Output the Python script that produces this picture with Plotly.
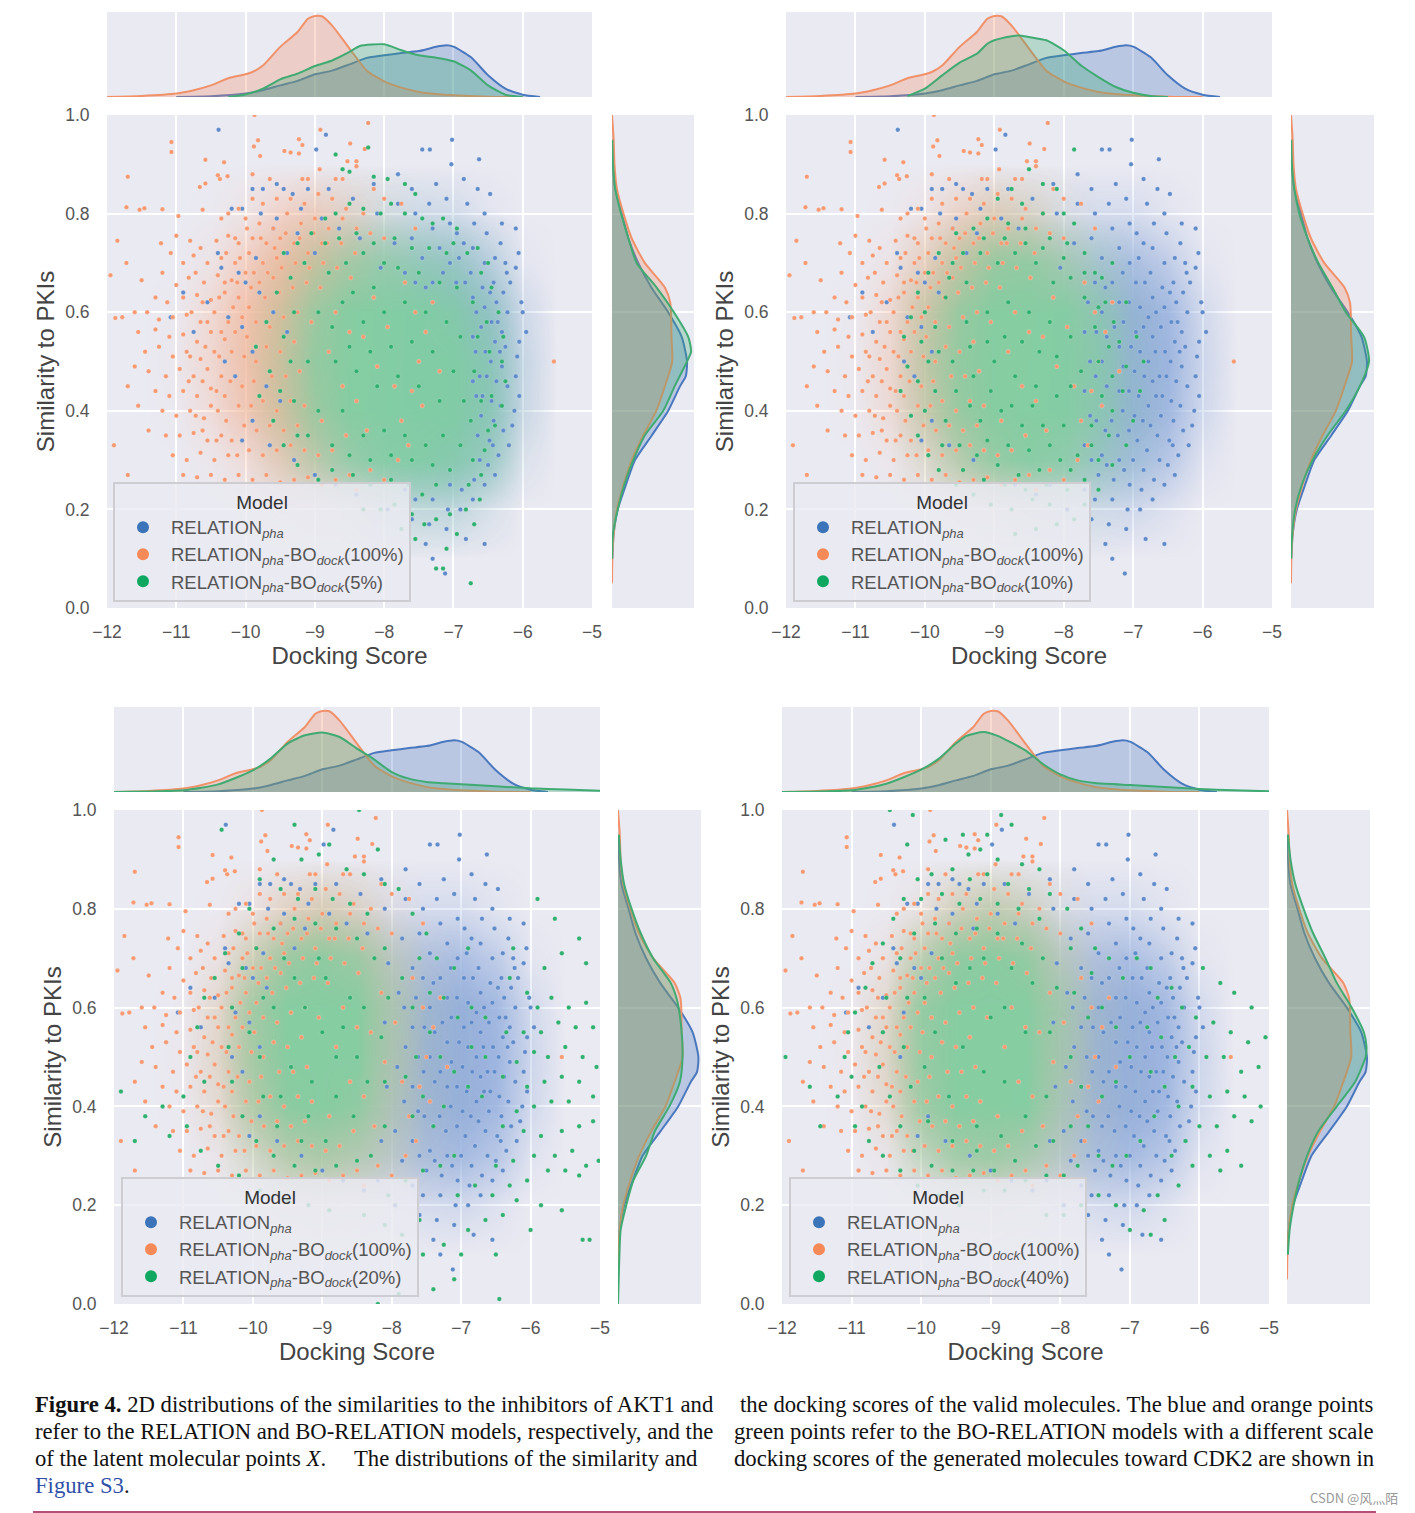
import plotly.graph_objects as go

# ---------- KDE curves ----------
TOP_X_ORANGE = [-12,-11.5,-11,-10.75,-10.5,-10.25,-10,-9.9,-9.75,-9.5,-9.25,-9.1,-9,-8.9,-8.75,-8.5,-8.25,-8,-7.75,-7.5,-7.25,-7,-6.5,-6]
TOP_Y_ORANGE = [0,.012,.04,.08,.137,.22,.267,.294,.37,.59,.765,.92,.953,.95,.84,.57,.31,.184,.11,.06,.035,.02,.004,0]
TOP_X_BLUE = [-11,-10.5,-10,-9.75,-9.5,-9.25,-9,-8.75,-8.5,-8.25,-8,-7.75,-7.5,-7.25,-7.1,-7,-6.75,-6.5,-6.25,-6,-5.75]
TOP_Y_BLUE = [0,.008,.04,.08,.137,.19,.267,.31,.384,.46,.49,.518,.54,.59,.608,.592,.47,.255,.098,.027,0]

TOP_X_G1 = [-10.25,-10,-9.75,-9.5,-9.25,-9,-8.75,-8.5,-8.35,-8,-7.75,-7.5,-7.25,-7,-6.75,-6.5,-6.25,-6]
TOP_Y_G1 = [0,.03,.098,.208,.275,.365,.43,.53,.6,.62,.55,.49,.463,.42,.314,.137,.027,0]
TOP_X_G2 = [-10.25,-10,-9.75,-9.5,-9.25,-9.1,-9,-8.75,-8.65,-8.5,-8.25,-8,-7.75,-7.5,-7.25,-7,-6.75,-6.5]
TOP_Y_G2 = [.01,.098,.255,.404,.51,.627,.667,.714,.725,.706,.667,.55,.37,.235,.118,.05,.012,0]
TOP_X_G3 = [-12,-11,-10.5,-10,-9.75,-9.5,-9.25,-9,-8.75,-8.5,-8.3,-8,-7.75,-7.5,-7.25,-7,-6.5,-6,-5.5,-5]
TOP_Y_G3 = [0,.02,.09,.255,.39,.57,.667,.7,.647,.51,.41,.235,.157,.118,.102,.09,.067,.043,.03,.016]
TOP_X_G4 = [-12,-11,-10.5,-10,-9.75,-9.5,-9.35,-9.1,-8.9,-8.75,-8.5,-8.25,-8,-7.75,-7.5,-7,-6.5,-6,-5.5,-5]
TOP_Y_G4 = [0,.02,.098,.263,.39,.57,.66,.706,.66,.6,.49,.33,.208,.137,.106,.082,.06,.035,.02,.008]

RIGHT_Y_ORANGE = [1,.95,.9,.85,.8,.75,.7,.65,.62,.6,.55,.5,.45,.4,.35,.3,.25,.2,.15,.1,.05]
RIGHT_X_ORANGE = [0,.02,.03,.06,.14,.24,.4,.645,.71,.72,.725,.735,.645,.54,.38,.24,.14,.06,.02,.004,0]
RIGHT_Y_BLUE = [.95,.9,.85,.8,.75,.7,.65,.6,.55,.5,.47,.45,.4,.35,.3,.25,.2,.15,.1]
RIGHT_X_BLUE = [.005,.012,.04,.12,.2,.32,.48,.685,.85,.915,.9,.83,.685,.485,.28,.17,.07,.02,.004]
RIGHT_Y_G1 = [.95,.9,.85,.8,.75,.7,.65,.6,.55,.52,.5,.45,.4,.35,.3,.25,.2,.15,.1]
RIGHT_X_G1 = [.003,.012,.04,.11,.2,.3,.545,.755,.93,.965,.915,.765,.625,.4,.26,.15,.07,.012,0]
RIGHT_Y_G2 = [.95,.9,.85,.8,.75,.7,.65,.6,.55,.5,.45,.4,.35,.3,.25,.2,.15,.1]
RIGHT_X_G2 = [.003,.01,.04,.1,.2,.33,.5,.66,.88,.94,.83,.66,.44,.26,.13,.05,.015,0]
RIGHT_Y_G3 = [.95,.9,.85,.8,.75,.7,.65,.62,.6,.55,.5,.45,.4,.35,.3,.25,.2,.15,.1,.05,0]
RIGHT_X_G3 = [.01,.03,.07,.155,.26,.4,.6,.665,.69,.725,.735,.705,.585,.42,.32,.175,.094,.03,.016,.008,0]
RIGHT_Y_G4 = [.95,.9,.85,.8,.75,.7,.65,.6,.55,.52,.5,.45,.4,.35,.3,.25,.2,.15,.1]
RIGHT_X_G4 = [.01,.04,.095,.19,.3,.44,.57,.74,.88,.91,.9,.78,.57,.36,.23,.14,.076,.03,.01]
RIGHT_RANGES = [1.0, 1.0, .945, .95]

# ---------- cloud density (columns = HEAT_X, rows = HEAT_Y) ----------
HEAT_X = [-12,-11.5,-11,-10.5,-10,-9.5,-9,-8.5,-8,-7.5,-7,-6.5,-6,-5.5,-5]
HEAT_Y = [0,.1,.2,.3,.4,.5,.6,.7,.8,.9,1]
Z0 = [0]*15
BLUE_HEAT = [Z0,Z0,
 [0,0,0,0,0,0,.02,.05,.15,.25,.3,.15,0,0,0],
 [0,0,0,0,0,.05,.15,.35,.55,.75,.8,.6,.12,0,0],
 [0,0,0,0,.05,.15,.35,.55,.75,.95,1,.85,.3,0,0],
 [0,0,0,0,.05,.18,.4,.6,.8,1,1,.9,.35,0,0],
 [0,0,0,0,.04,.15,.35,.55,.75,.95,1,.85,.28,0,0],
 [0,0,0,0,0,.08,.22,.4,.55,.7,.75,.5,.08,0,0],
 [0,0,0,0,0,0,.05,.12,.18,.25,.25,.1,0,0,0],Z0,Z0]
ORANGE_HEAT = [Z0,Z0,
 [0,0,0,0,.04,.12,.15,.1,.03,0,0,0,0,0,0],
 [0,0,0,.08,.3,.6,.7,.5,.25,.05,0,0,0,0,0],
 [0,0,.03,.3,.7,.95,1,.8,.4,.1,.02,0,0,0,0],
 [0,0,.06,.38,.8,1,1,.9,.5,.12,.02,0,0,0,0],
 [0,0,.04,.35,.8,1,1,.95,.5,.12,.02,0,0,0,0],
 [0,0,0,.15,.55,.9,1,.8,.35,.06,0,0,0,0,0],
 [0,0,0,.02,.16,.48,.6,.4,.1,0,0,0,0,0,0],Z0,Z0]
GREEN_HEAT_1 = [Z0,Z0,
 [0,0,0,0,0,0,.02,.1,.18,.25,.22,.08,0,0,0],
 [0,0,0,0,0,.15,.5,.8,.95,.95,.85,.55,.06,0,0],
 [0,0,0,0,.03,.35,.8,1,1,1,1,.72,.1,0,0],
 [0,0,0,0,.06,.42,.88,1,1,1,1,.72,.1,0,0],
 [0,0,0,0,.03,.35,.8,1,1,1,.9,.5,.04,0,0],
 [0,0,0,0,0,.12,.45,.7,.78,.65,.5,.18,0,0,0],
 [0,0,0,0,0,0,.06,.12,.14,.1,.05,0,0,0,0],Z0,Z0]
GREEN_HEAT_2 = [Z0,Z0,
 [0,0,0,0,0,.02,.1,.16,.15,.08,.01,0,0,0,0],
 [0,0,0,0,.18,.55,.85,.95,.85,.5,.15,0,0,0,0],
 [0,0,0,.02,.4,.85,1,1,1,.75,.22,.01,0,0,0],
 [0,0,0,.03,.48,.9,1,1,1,.8,.22,.01,0,0,0],
 [0,0,0,.02,.4,.85,1,1,1,.7,.15,0,0,0,0],
 [0,0,0,0,.12,.5,.85,.88,.62,.3,.04,0,0,0,0],
 [0,0,0,0,0,.06,.2,.2,.08,.01,0,0,0,0,0],Z0,Z0]
GREEN_HEAT_3 = [Z0,Z0,
 [0,0,0,0,.04,.08,.08,.03,0,0,0,0,0,0,0],
 [0,0,0,.02,.28,.55,.65,.5,.22,.06,.01,0,0,0,0],
 [0,0,0,.1,.6,.95,1,.9,.38,.12,.04,0,0,0,0],
 [0,0,0,.15,.72,1,1,1,.48,.14,.04,0,0,0,0],
 [0,0,0,.12,.75,1,1,1,.5,.14,.04,0,0,0,0],
 [0,0,0,.02,.35,.8,.92,.78,.3,.05,0,0,0,0,0],
 [0,0,0,0,.02,.15,.25,.16,.03,0,0,0,0,0,0],Z0,Z0]
GREEN_HEAT_4 = [Z0,Z0,
 [0,0,0,0,.03,.12,.12,.06,.01,0,0,0,0,0,0],
 [0,0,0,.02,.42,.72,.78,.62,.28,.07,.01,0,0,0,0],
 [0,0,0,.12,.75,1,1,1,.48,.12,.04,0,0,0,0],
 [0,0,0,.18,.85,1,1,1,.58,.14,.04,0,0,0,0],
 [0,0,0,.14,.85,1,1,1,.62,.14,.04,0,0,0,0],
 [0,0,0,.03,.5,.9,.97,.88,.35,.05,0,0,0,0,0],
 [0,0,0,0,.05,.3,.45,.32,.08,0,0,0,0,0,0],Z0,Z0]

# ---------- individual points estimated from the main panels ----------
BLUE_POINTS = [(-10.39,.97),(-8.84,.96),(-8.98,.93),(-7.45,.93),(-7.34,.93),(-7.02,.95),(-6.63,.91),(-7.03,.9),(-6.47,.84),(-7.8,.88),(-8.15,.86),(-7.6,.85),(-7.25,.86),(-6.85,.87),(-6.65,.85),(-6.1,.77),(-6.06,.72),(-6.1,.69),(-6.3,.78),(-6.55,.8),(-6.8,.82),(-7.1,.83),(-7.35,.82),(-7.55,.8),(-7.8,.82),(-8.1,.8),(-8.45,.83),(-8.8,.85),(-9.1,.85),(-9.45,.85),(-9.75,.85),(-9.9,.85),(-9.55,.86),(-9.32,.84),
(-10.2,.81),(-10.05,.81),(-9.78,.8),(-9.55,.79),(-9.2,.81),(-9.6,.77),(-9.25,.76),(-8.9,.79),(-8.65,.77),(-8.35,.75),(-10.4,.72),(-10.35,.69),(-10.1,.68),(-10.0,.66),(-9.85,.71),(-9.4,.72),(-9.0,.72),(-10.55,.62),(-10.25,.59),(-10.05,.57),(-9.8,.64),(-9.6,.6),(-9.4,.56),(-10.9,.64),(-10.75,.56),(-11.08,.59),(-10.3,.5),(-10.15,.47),(-9.9,.52),(-9.7,.45),(-9.5,.42),(-9.9,.38),(-10.05,.34),(-9.65,.33),(-9.3,.3),(-9.0,.27),(-8.7,.25),(-8.4,.23),
(-6.02,.62),(-6.0,.6),(-5.95,.56),(-6.05,.54),(-6.08,.51),(-6.1,.47),(-6.05,.43),(-6.12,.4),(-6.15,.37),(-6.2,.33),(-6.18,.66),(-6.25,.7),(-6.28,.64),(-6.22,.6),(-6.3,.56),(-6.25,.53),(-6.3,.49),(-6.22,.45),(-6.32,.41),(-6.28,.36),(-6.35,.31),(-6.4,.27),(-6.32,.74),(-6.4,.71),(-6.42,.66),(-6.38,.62),(-6.45,.58),(-6.4,.54),(-6.46,.5),(-6.38,.46),(-6.45,.42),(-6.42,.38),(-6.48,.34),(-6.5,.29),(-6.55,.25),(-6.52,.76),(-6.55,.7),(-6.58,.65),(-6.55,.61),(-6.6,.57),(-6.54,.52),(-6.62,.47),(-6.58,.43),(-6.6,.39),(-6.65,.35),(-6.62,.3),(-6.7,.26),(-6.72,.22),(-6.7,.78),(-6.72,.73),(-6.75,.68),(-6.72,.63),(-6.78,.59),(-6.72,.55),(-6.78,.5),(-6.72,.46),(-6.78,.41),(-6.75,.37),(-6.8,.32),(-6.85,.28),(-6.88,.24),(-6.9,.2),(-6.95,.76),(-6.92,.71),(-6.96,.66),(-6.9,.61),(-6.96,.56),(-6.9,.52),(-6.98,.48),(-6.92,.43),(-6.98,.39),(-6.94,.34),(-7.0,.3),(-7.05,.25),(-7.08,.2),(-7.1,.16),(-7.2,.73),(-7.15,.68),(-7.2,.62),(-7.14,.58),(-7.2,.53),(-7.14,.49),(-7.2,.44),(-7.15,.4),(-7.22,.35),(-7.2,.3),(-7.28,.26),(-7.3,.22),(-7.35,.17),(-7.4,.13),(-7.45,.71),(-7.4,.65),(-7.45,.6),(-7.38,.55),(-7.45,.5),(-7.38,.45),(-7.45,.41),(-7.4,.36),(-7.45,.31),(-7.5,.27),(-7.55,.22),(-7.6,.18),(-7.7,.24),(-7.7,.68),(-7.65,.62),(-7.7,.56),(-7.62,.5),(-7.7,.44),(-7.62,.39),(-7.7,.33),(-7.85,.29),(-7.95,.2),(-6.82,.14),(-6.55,.13),(-7.3,.1),(-7.12,.07),
(-6.23,.68),(-6.36,.58),(-6.33,.52),(-6.47,.64),(-6.52,.47),(-6.43,.33),(-6.67,.6),(-6.68,.52),(-6.67,.43),(-6.83,.66),(-6.85,.57),(-6.84,.47),(-6.86,.38),(-7.05,.7),(-7.06,.62),(-7.03,.53),(-7.06,.44),(-7.06,.36),(-7.13,.28),(-7.3,.66),(-7.27,.57),(-7.3,.47),(-7.31,.38),(-7.38,.29),(-7.55,.66),(-7.53,.56),(-7.54,.47),(-7.53,.38),(-7.6,.3),(-7.82,.6),(-7.8,.52),(-7.82,.41),(-7.95,.35),(-7.92,.48),(-7.9,.63),(-7.85,.74),(-7.6,.75),(-7.3,.77),(-7.05,.78),(-6.85,.74),(-8.05,.69),(-8.1,.57),(-8.07,.44),(-8.15,.33),(-8.2,.25),(-8.3,.64),(-8.3,.5),(-8.28,.39)]

ORANGE_POINTS = [(-9.87,1.0),(-11.7,.875),(-11.07,.945),(-11.07,.925),(-10.58,.909),(-10.31,.904),(-10.4,.878),(-10.26,.876),(-10.37,.87),(-10.66,.854),(-10.58,.861),(-11.72,.813),(-11.53,.808),(-11.46,.811),(-11.2,.809),(-10.62,.808),(-10.97,.795),(-9.88,.936),(-9.82,.949),(-9.79,.917),(-9.44,.927),(-9.35,.924),(-9.23,.951),(-9.18,.939),(-9.23,.922),(-8.92,.97),(-8.23,.984),(-8.49,.942),(-8.28,.931),(-8.53,.906),(-8.4,.906),(-8.4,.896),(-8.93,.89),(-9.18,.87),(-9.1,.87),(-9.9,.88),(-9.65,.87),(-8.7,.87),(-8.6,.87),(-8.15,.85),(-8.0,.83),(-7.75,.82),(-7.55,.77),
(-10.1,.81),(-10.25,.8),(-10.35,.79),(-10.0,.79),(-9.9,.83),(-9.75,.82),(-9.55,.83),(-9.35,.83),(-9.15,.82),(-8.95,.84),(-8.75,.83),(-8.55,.81),(-8.3,.8),(-9.8,.78),(-9.6,.77),(-9.4,.8),(-9.2,.78),(-9.0,.79),(-8.8,.77),(-8.6,.79),(-8.4,.77),(-8.2,.76),(-8.0,.75),
(-11.85,.745),(-11.22,.74),(-11.0,.755),(-10.8,.745),(-10.65,.73),(-10.42,.745),(-10.25,.755),(-10.1,.74),(-9.9,.75),(-9.7,.74),(-9.5,.75),(-9.3,.74),(-9.1,.72),(-8.9,.74),(-11.08,.72),(-10.9,.7),(-10.75,.715),(-10.55,.7),(-10.35,.71),(-10.15,.7),(-9.95,.72),(-9.75,.7),(-9.55,.71),(-11.72,.7),(-11.5,.665),(-11.95,.675),(-11.2,.68),(-11.0,.655),(-10.82,.67),(-10.6,.66),(-10.4,.675),(-10.2,.665),(-10.0,.68),(-9.8,.66),(-9.6,.67),
(-11.3,.63),(-11.13,.62),(-10.9,.63),(-10.7,.635),(-10.5,.625),(-10.3,.64),(-10.1,.63),(-9.95,.61),(-11.6,.6),(-11.78,.59),(-11.88,.588),(-11.42,.6),(-11.25,.585),(-11.05,.59),(-10.85,.595),(-10.65,.58),(-10.45,.6),(-10.25,.58),(-11.55,.56),(-11.3,.565),(-11.1,.55),(-10.9,.555),(-10.7,.54),(-10.5,.56),(-10.3,.545),(-11.45,.52),(-11.25,.53),(-11.05,.51),(-10.85,.52),(-10.65,.505),(-10.45,.52),(-11.6,.49),(-11.4,.48),(-11.15,.47),(-10.95,.485),(-10.75,.47),(-10.55,.485),(-10.35,.47),(-11.7,.45),(-11.3,.44),(-11.1,.43),(-10.9,.44),(-10.7,.43),(-10.5,.445),(-10.3,.43),(-11.55,.41),(-11.2,.4),(-11.0,.39),(-10.8,.4),(-10.6,.385),(-10.4,.4),(-11.9,.33),(-11.4,.36),(-11.15,.35),(-10.95,.35),(-10.75,.355),(-10.55,.34),(-10.35,.35),(-11.05,.31),(-10.85,.3),(-10.65,.315),(-10.45,.3),(-10.25,.31),(-11.7,.27),(-10.9,.27),(-10.7,.265),(-10.5,.27),(-10.3,.26),(-10.1,.27),(-9.9,.26),(-9.7,.27),(-9.5,.255),(-9.3,.26),(-9.1,.265),(-8.9,.25),(-8.7,.26),(-8.5,.27),
(-7.75,.38),(-7.6,.44),(-7.5,.5),(-7.4,.56),(-7.3,.62),(-7.55,.6),(-7.7,.66),(-7.8,.3),(-7.65,.33),(-7.45,.41),(-7.2,.48),(-5.55,.5),(-8.0,.26),(-8.2,.28),(-8.4,.24),(-8.15,.63),(-8.3,.55),(-8.4,.42),(-8.25,.36),(-8.1,.49),(-7.95,.57),(-7.85,.45),
(-10.72,.68),(-10.62,.62),(-10.38,.63),(-10.18,.61),(-10.05,.59),(-10.78,.6),(-10.55,.58),(-10.35,.56),(-10.15,.56),(-9.98,.55),(-10.8,.51),(-10.58,.53),(-10.38,.51),(-10.2,.52),(-10.02,.51),(-9.85,.5),(-10.82,.46),(-10.62,.46),(-10.42,.44),(-10.22,.46),(-10.05,.45),(-9.88,.46),(-10.72,.39),(-10.5,.41),(-10.28,.38),(-10.1,.41),(-9.92,.41),(-9.75,.42),(-10.62,.36),(-10.42,.34),(-10.2,.34),(-10.02,.37),(-9.84,.36),(-9.65,.37),(-10.12,.31),(-9.95,.32),(-9.75,.31),(-9.55,.32),(-9.35,.33),(-9.15,.32),(-8.95,.31),(-8.75,.32),(-10.15,.75),(-9.98,.77),(-9.78,.75),(-9.58,.73),(-9.42,.76),(-9.22,.75),(-9.02,.76),(-8.82,.74),(-8.62,.74),(-8.42,.72),(-10.28,.72),(-10.08,.71),(-9.88,.68),(-9.68,.68),(-9.48,.69),(-9.28,.7),(-9.08,.69),(-8.88,.7),(-8.68,.69),(-8.48,.67),(-10.3,.66),(-10.12,.66),(-9.92,.65),(-9.72,.63),(-9.52,.64),(-9.32,.65),(-9.12,.66),(-8.92,.65),(-9.85,.58),(-9.65,.57),(-9.45,.59),(-9.25,.6),(-9.05,.58),(-9.7,.53),(-9.5,.52),(-9.3,.54),(-9.62,.47),(-9.42,.47),(-9.22,.48),(-9.55,.4),(-9.35,.42),(-9.15,.41),(-9.45,.36),(-9.25,.37),(-8.7,.6),(-8.5,.56),(-8.6,.45),(-8.55,.35),(-8.9,.38),(-8.8,.52)]

G1_POINTS = [(-8.23,.934),(-8.7,.92),(-8.6,.89),(-8.5,.885),(-8.15,.875),(-7.95,.87),(-7.7,.86),(-7.55,.84),(-7.9,.82),(-8.05,.8),(-8.3,.81),(-8.5,.82),(-8.7,.8),(-8.85,.79),(-7.7,.8),(-7.45,.79),(-7.3,.78),(-7.15,.79),(-6.95,.77),(-9.05,.76),(-9.25,.74),(-9.45,.72),(-9.15,.7),(-9.35,.67),(-9.55,.64),(-9.7,.58),(-9.85,.53),(-9.65,.48),(-9.8,.43),(-9.6,.38),(-9.45,.33),(-9.25,.29),(-8.95,.26),(-8.75,.28),(-8.45,.27),(-8.2,.25),
(-6.3,.5),(-6.25,.46),(-6.28,.55),(-6.35,.6),(-6.3,.41),(-6.4,.37),(-6.45,.65),(-6.5,.7),(-6.55,.32),(-6.6,.27),(-6.65,.73),(-6.45,.43),(-6.48,.52),(-6.52,.58),(-6.5,.36),(-6.72,.3),(-6.78,.25),(-6.82,.2),(-6.62,.22),(-6.7,.17),(-6.95,.15),(-7.05,.19),(-7.25,.18),(-7.1,.12),(-7.15,.08),(-7.25,.08),(-6.75,.05),(-7.55,.14),(-7.42,.17),(-7.6,.19),(-7.75,.16),(-7.85,.21),(-8.05,.2),(-8.3,.2),
(-6.8,.72),(-7.0,.74),(-6.6,.68),(-6.72,.62),(-6.65,.55),(-6.7,.48),(-6.6,.42),(-6.75,.38),(-6.9,.33),(-7.05,.28),(-7.25,.25),(-7.45,.23),(-7.65,.25),(-7.9,.26),(-8.0,.7),(-8.3,.72),(-8.55,.7),(-8.8,.68),(-8.6,.62),(-8.3,.58),(-8.0,.6),(-7.7,.62),(-7.4,.6),(-7.1,.58),(-6.9,.55),(-8.7,.5),(-8.4,.48),(-8.1,.45),(-7.8,.47),(-7.5,.45),(-7.2,.42),(-8.6,.4),(-8.3,.35),(-8.0,.36),(-7.7,.35),(-7.4,.33),(-7.15,.35),(-8.95,.6),(-9.1,.5),(-8.95,.4),(-9.1,.35),
(-8.85,.74),(-8.65,.75),(-8.4,.76),(-8.15,.74),(-7.85,.75),(-7.6,.73),(-7.35,.73),(-7.1,.72),(-9.3,.6),(-9.45,.55),(-9.35,.5),(-9.5,.44),(-9.3,.42),(-9.25,.35),(-8.75,.33),(-8.5,.31),(-8.2,.3),(-7.9,.31),(-7.6,.3),(-7.3,.29),(-6.95,.65),(-7.2,.66),(-7.5,.68),(-7.8,.69),(-8.15,.65),(-8.45,.64),(-8.75,.57),(-8.5,.53),(-8.2,.52),(-7.9,.53),(-7.6,.54),(-7.3,.52),(-7.0,.48),(-6.85,.42)]

G2_POINTS = [(-7.85,.93),(-8.5,.89),(-8.1,.85),(-8.3,.86),(-8.75,.85),(-8.95,.83),(-8.6,.82),(-8.3,.8),(-8.0,.8),(-7.85,.78),(-9.1,.79),(-9.3,.77),(-9.55,.76),(-8.8,.78),(-8.55,.77),(-8.2,.75),(-7.95,.74),(-7.7,.72),(-7.55,.68),(-9.8,.72),(-9.95,.68),(-10.1,.64),(-10.2,.59),(-10.3,.55),(-10.25,.49),(-10.35,.44),(-10.2,.39),(-10.1,.35),(-9.95,.31),(-9.8,.28),(-9.55,.25),(-9.3,.23),(-9.05,.21),(-8.75,.2),(-8.45,.22),(-8.2,.21),(-7.95,.24),(-7.7,.26),(-7.5,.3),
(-7.35,.35),(-7.3,.4),(-7.15,.44),(-7.1,.49),(-7.2,.54),(-7.28,.58),(-7.4,.62),(-7.1,.62),(-6.95,.55),(-6.85,.5),(-6.9,.44),(-7.0,.38),(-7.1,.33),(-7.3,.29),(-7.5,.24),(-7.7,.21),(-7.85,.18),(-8.1,.17),(-8.4,.16),(-8.7,.15),(-7.45,.67),(-7.3,.7),(-9.6,.7),(-9.4,.66),(-9.2,.72),(-8.95,.7),(-8.7,.72),(-8.4,.7),(-8.15,.66),(-7.9,.67),(-7.7,.63),(-7.55,.57),(-7.5,.5),(-7.45,.43),(-7.6,.37),(-7.8,.31),(-8.05,.3),(-8.35,.28),(-8.65,.27),(-8.95,.29),(-9.25,.31),(-9.5,.33),(-9.7,.38),(-9.85,.44),(-9.95,.5),(-9.85,.57),(-9.7,.63),(-9.4,.58),(-9.1,.6),(-8.8,.62),(-8.5,.6),(-8.2,.58),(-7.9,.55),(-7.75,.48),(-8.1,.43),(-8.4,.45),(-8.7,.47),(-9.0,.5),(-9.3,.47),(-9.55,.44),(-9.2,.38),(-8.9,.4),(-8.6,.37),(-8.3,.37),(-8.0,.37),
(-10.0,.6),(-10.05,.54),(-10.1,.46),(-10.0,.4),(-9.75,.33),(-9.45,.28),(-9.15,.26),(-8.85,.25),(-8.55,.24),(-8.25,.25),(-7.9,.28),(-7.6,.33),(-7.3,.47),(-7.35,.53),(-7.5,.61),(-7.7,.68),(-8.0,.71),(-8.3,.73),(-8.55,.74),(-8.85,.75),(-9.15,.75),(-9.45,.72),(-9.65,.67),(-9.8,.52),(-9.6,.5),(-9.35,.53),(-9.1,.54),(-8.85,.55),(-8.6,.54),(-8.35,.52),(-8.1,.51),(-7.9,.45),(-9.35,.41),(-9.05,.44),(-8.75,.41),(-8.45,.41),(-8.2,.33),(-8.5,.32),(-8.8,.33),(-9.1,.34)]

G3_POINTS = [(-8.47,1.0),(-8.9,.93),(-8.2,.92),(-9.05,.91),(-9.3,.9),(-8.65,.88),(-8.4,.87),(-10.45,.96),(-9.4,.97),(-9.7,.9),(-8.1,.85),(-7.9,.84),(-7.7,.79),(-7.5,.75),(-9.9,.86),(-9.6,.84),(-9.35,.82),(-9.1,.84),(-8.85,.82),(-8.6,.81),(-8.35,.79),(-10.05,.8),(-10.2,.75),(-10.4,.71),(-10.55,.66),(-10.7,.62),(-10.8,.56),(-10.9,.5),(-10.7,.45),(-11.0,.42),(-11.3,.4),(-11.9,.43),(-11.55,.38),(-11.7,.33),(-11.2,.34),(-10.95,.36),(-10.75,.31),(-10.5,.28),(-10.2,.26),(-9.9,.23),(-9.5,.21),(-9.2,.2),(-8.9,.19),
(-5.9,.82),(-5.65,.78),(-5.3,.74),(-5.55,.71),(-5.2,.69),(-5.8,.68),(-6.25,.72),(-6.3,.66),(-6.05,.63),(-5.9,.6),(-5.7,.62),(-5.45,.6),(-5.2,.61),(-5.1,.56),(-5.35,.56),(-5.6,.57),(-5.85,.55),(-6.1,.55),(-6.35,.55),(-5.95,.51),(-5.75,.5),(-5.5,.52),(-5.25,.5),(-5.05,.48),(-6.2,.49),(-6.4,.46),(-6.05,.44),(-5.8,.45),(-5.55,.46),(-5.3,.45),(-5.1,.42),(-5.45,.41),(-5.7,.41),(-5.95,.4),(-6.2,.39),(-6.4,.36),(-6.1,.35),(-5.85,.34),(-5.55,.35),(-5.3,.36),(-5.1,.37),(-5.4,.31),(-5.65,.3),(-5.95,.3),(-6.25,.29),(-6.5,.28),(-5.75,.27),(-5.5,.27),(-5.2,.28),(-5.02,.29),(-5.3,.26),(-6.05,.25),(-6.3,.24),(-6.55,.22),(-6.8,.24),(-7.05,.22),(-6.2,.21),(-5.85,.2),(-5.55,.19),(-6.4,.18),(-6.65,.17),(-6.0,.15),(-5.15,.13),(-5.25,.13),(-6.5,.1),(-6.45,.01),(-7.1,.05),(-7.4,.03),(-7.9,.02),(-8.2,.0),(-7.55,.1),(-7.25,.12),(-7.85,.14),(-8.1,.16),(-8.4,.18),(-7.6,.17),(-6.9,.15),(-7.0,.1),
(-7.1,.3),(-7.3,.28),(-7.55,.27),(-7.8,.25),(-8.05,.22),(-7.25,.4),(-7.4,.36),(-7.55,.42),(-7.7,.38),(-7.8,.46),(-7.65,.5),(-7.45,.55),(-7.3,.5),(-7.1,.47),(-6.9,.44),(-6.7,.42),(-6.85,.52),(-6.65,.5),(-7.05,.58),(-6.85,.6),(-6.65,.58),(-7.25,.62),(-7.45,.63),(-7.7,.6),(-7.85,.66),(-7.6,.7),(-7.35,.7),(-7.1,.68),(-6.9,.72),(-8.1,.72),(-8.05,.62),(-8.15,.54),(-8.1,.45),(-8.1,.36),(-8.3,.3),(-9.05,.7),(-9.4,.66),(-9.7,.6),(-9.9,.5),(-9.6,.42),(-9.2,.38),(-8.8,.42),(-8.5,.5),(-8.6,.62),(-9.0,.55),
(-10.3,.6),(-10.15,.68),(-9.95,.72),(-9.7,.76),(-9.4,.78),(-9.1,.77),(-8.8,.76),(-8.5,.74),(-8.25,.7),(-10.35,.52),(-10.3,.45),(-10.15,.38),(-9.95,.33),(-9.7,.3),(-9.4,.28),(-9.1,.27),(-8.8,.28),(-8.5,.29),(-10.05,.55),(-9.85,.62),(-9.55,.7),(-9.25,.6),(-8.95,.66),(-8.7,.56),(-8.4,.6),(-8.35,.45),(-8.55,.38),(-8.95,.33),(-9.3,.33),(-9.65,.36),(-9.85,.42),(-9.45,.48),(-9.15,.45),(-8.8,.5)]

G4_POINTS = [(-10.45,1.0),(-10.12,.99),(-8.85,.99),(-8.7,.97),(-9.4,.95),(-9.05,.95),(-9.65,.94),(-10.2,.93),(-9.15,.92),(-9.32,.91),(-8.9,.9),(-8.55,.89),(-8.3,.88),(-9.55,.88),(-9.85,.87),(-10.05,.86),(-9.3,.86),(-9.05,.87),(-8.75,.85),(-8.45,.84),(-8.15,.83),(-7.9,.8),(-7.7,.76),(-7.5,.72),(-10.25,.82),(-10.0,.82),(-9.7,.83),(-9.45,.81),(-9.15,.82),(-8.9,.81),(-8.6,.8),(-8.3,.78),(-10.4,.78),(-10.55,.73),(-10.7,.69),(-10.8,.64),(-10.95,.59),(-11.05,.55),(-11.1,.5),(-11.0,.46),(-11.2,.42),(-10.85,.4),(-10.95,.36),(-10.75,.33),(-10.55,.3),(-10.3,.27),(-10.05,.24),(-9.75,.22),(-9.45,.2),(-11.95,.5),(-11.6,.44),(-11.45,.36),
(-5.95,.68),(-5.7,.65),(-5.5,.63),(-5.25,.6),(-5.05,.54),(-5.3,.53),(-5.55,.55),(-5.8,.57),(-6.05,.58),(-6.25,.6),(-6.4,.64),(-5.15,.48),(-5.4,.47),(-5.65,.5),(-5.9,.5),(-6.15,.52),(-6.35,.5),(-5.12,.4),(-5.35,.42),(-5.6,.43),(-5.85,.42),(-6.1,.44),(-6.3,.4),(-5.25,.37),(-5.5,.38),(-5.75,.36),(-6.0,.36),(-6.2,.33),(-5.6,.31),(-5.85,.3),(-6.1,.28),(-6.4,.3),(-5.4,.28),(-5.7,.27),(-6.3,.24),(-6.6,.22),(-6.8,.19),(-6.5,.17),(-6.7,.14),(-7.0,.15),(-7.2,.2),(-7.45,.22),(-7.7,.2),(-7.95,.18),(-8.2,.18),
(-7.3,.7),(-7.1,.66),(-6.9,.7),(-6.7,.68),(-6.6,.62),(-6.75,.56),(-6.55,.54),(-6.7,.47),(-6.5,.44),(-6.65,.38),(-6.85,.33),(-7.05,.3),(-7.25,.28),(-7.45,.3),(-7.6,.36),(-7.4,.42),(-7.2,.45),(-7.0,.5),(-7.2,.56),(-7.4,.6),(-7.6,.58),(-7.8,.63),(-7.55,.67),(-7.85,.72),(-7.85,.5),(-7.7,.44),(-7.85,.36),(-7.75,.28),(-7.95,.26),(-8.2,.26),(-8.5,.25),(-8.8,.23),(-9.1,.23),(-9.1,.7),(-9.5,.65),(-9.8,.55),(-9.6,.42),(-9.2,.36),(-8.8,.45),(-8.5,.55),(-8.7,.68),(-9.0,.58),
(-10.5,.62),(-10.55,.55),(-10.6,.48),(-10.45,.42),(-10.3,.36),(-10.1,.31),(-9.85,.28),(-9.55,.27),(-9.25,.27),(-8.95,.27),(-8.65,.29),(-8.35,.32),(-8.1,.33),(-10.3,.7),(-10.1,.75),(-9.8,.77),(-9.5,.75),(-9.2,.76),(-8.9,.75),(-8.55,.73),(-8.25,.7),(-8.05,.64),(-10.2,.62),(-10.25,.52),(-10.15,.44),(-9.9,.37),(-9.55,.33),(-9.2,.31),(-8.85,.34),(-8.5,.38),(-8.2,.42),(-8.15,.55),(-8.4,.65),(-9.3,.68),(-9.7,.7),(-9.95,.62),(-9.95,.48),(-9.4,.52),(-9.1,.47),(-8.8,.6)]

LEGEND_LABELS = ['5%', '10%', '20%', '40%']
X_TICKS = [-12,-11,-10,-9,-8,-7,-6,-5]
X_TICK_TEXT = ['−12','−11','−10','−9','−8','−7','−6','−5']
Y_TICKS = [0,.2,.4,.6,.8,1]
Y_TICK_TEXT = ['0.0','0.2','0.4','0.6','0.8','1.0']

# caption: pieces of each line, (text, row, left start in px or None, right end in px or None)
CAPTION = [
 ('<b>Figure 4.</b> 2D distributions of the similarities to the inhibitors of AKT1 and', 0, 33, None),
 ('the docking scores of the valid molecules. The blue and orange points', 0, None, 1376),
 ('refer to the RELATION and BO-RELATION models, respectively, and the', 1, 33, None),
 ('green points refer to the BO-RELATION models with a different scale', 1, None, 1376),
 ('of the latent molecular points <i>X</i>.', 2, 33, None),
 ('The distributions of the similarity and', 2, 352, None),
 ('docking scores of the generated molecules toward CDK2 are shown in', 2, None, 1376),
 ('<span style="color:#2F4FA8">Figure S3</span>.', 3, 33, None),
]

W, H = 1415, 1513
BG = '#EAEAF2'
C = dict(b='#4A78BE', o='#F0916A', g='#3FAA72')
FILL = dict(b='rgba(70,115,190,.29)', o='rgba(240,135,95,.29)', g='rgba(50,170,110,.29)')
DOT = dict(b='#5F8BCB', o='#F79A72', g='#2FB06F')
LEG = dict(b='#3B74B8', o='#F58A58', g='#10A860')
HEAT_RGB = dict(b='145,172,220', o='248,182,152', g='128,205,162')
SANS = 'Liberation Sans, Arial, sans-serif'
SERIF = 'Liberation Serif, serif'

# pixel boxes of each panel: main x, main y, top y, right x
BOXES = [((107,592),(115,608),(12,97),(612,694)),
         ((786,1272),(115,608),(12,97),(1291,1374)),
         ((114,600),(810,1304),(707,792),(618,701)),
         ((782,1269),(810,1304),(707,792),(1287,1370))]
LEG_POS = [(113,482),(793,482),(121,1177),(789,1177)]
GREEN = [(G1_POINTS,GREEN_HEAT_1,TOP_X_G1,TOP_Y_G1,RIGHT_X_G1,RIGHT_Y_G1),
         (G2_POINTS,GREEN_HEAT_2,TOP_X_G2,TOP_Y_G2,RIGHT_X_G2,RIGHT_Y_G2),
         (G3_POINTS,GREEN_HEAT_3,TOP_X_G3,TOP_Y_G3,RIGHT_X_G3,RIGHT_Y_G3),
         (G4_POINTS,GREEN_HEAT_4,TOP_X_G4,TOP_Y_G4,RIGHT_X_G4,RIGHT_Y_G4)]

def xdom(a, b): return [a / W, b / W]
def ydom(a, b): return [1 - b / H, 1 - a / H]

def covered(pt, heat):
    """True where the green cloud drawn on top hides a blue point in the reference."""
    col = min(range(len(HEAT_X)), key=lambda c: abs(HEAT_X[c] - pt[0]))
    row = min(range(len(HEAT_Y)), key=lambda r: abs(HEAT_Y[r] - pt[1]))
    return heat[row][col] >= .85

fig = go.Figure()
layout = dict(width=W, height=H, autosize=False, margin=dict(l=0, r=0, t=0, b=0, autoexpand=False),
              paper_bgcolor='white', plot_bgcolor=BG, showlegend=True, hovermode=False)
annotations, shapes = [], []

def scale(key):
    return [[0, f'rgba({HEAT_RGB[key]},0)'], [1, f'rgba({HEAT_RGB[key]},.95)']]

for i, (bx, by, ty, rx) in enumerate(BOXES):
    m = 3 * i + 1
    t = m + 1
    r = m + 2
    def nm(n): return '' if n == 1 else str(n)
    layout[f'xaxis{nm(m)}'] = dict(domain=xdom(*bx), range=[-12, -5], anchor=f'y{nm(m)}', tickvals=X_TICKS, ticktext=X_TICK_TEXT,
        showgrid=True, gridcolor='white', gridwidth=2, zeroline=False, showline=False, ticks='outside', ticklen=8, tickcolor='rgba(0,0,0,0)',
        tickfont=dict(family=SANS, size=17.5, color='#555'), title=dict(text='Docking Score', standoff=4, font=dict(family=SANS, size=24, color='#444')))
    layout[f'yaxis{nm(m)}'] = dict(domain=ydom(*by), range=[0, 1], anchor=f'x{nm(m)}', tickvals=Y_TICKS, ticktext=Y_TICK_TEXT,
        showgrid=True, gridcolor='white', gridwidth=2, zeroline=False, showline=False, ticks='outside', ticklen=13, tickcolor='rgba(0,0,0,0)',
        tickfont=dict(family=SANS, size=17.5, color='#555'), title=dict(text='Similarity to PKIs', standoff=3, font=dict(family=SANS, size=24, color='#444')))
    layout[f'xaxis{t}'] = dict(domain=xdom(*bx), range=[-12, -5], anchor=f'y{t}', tickvals=X_TICKS, showticklabels=False,
        showgrid=True, gridcolor='white', gridwidth=2, zeroline=False, ticks='')
    layout[f'yaxis{t}'] = dict(domain=ydom(*ty), range=[0, 1], anchor=f'x{t}', showticklabels=False, showgrid=False, zeroline=False, ticks='')
    layout[f'xaxis{r}'] = dict(domain=xdom(*rx), range=[0, RIGHT_RANGES[i]], anchor=f'y{r}', showticklabels=False, showgrid=False, zeroline=False, ticks='')
    layout[f'yaxis{r}'] = dict(domain=ydom(*by), range=[0, 1], anchor=f'x{r}', tickvals=Y_TICKS, showticklabels=False,
        showgrid=True, gridcolor='white', gridwidth=2, zeroline=False, ticks='')

    gp, gh, gtx, gty, grx, gry = GREEN[i]
    xa, ya = f'x{nm(m)}', f'y{nm(m)}'
    legname = 'legend' + nm(i + 1)
    for key, z in (('b', BLUE_HEAT), ('o', ORANGE_HEAT), ('g', gh)):
        fig.add_trace(go.Heatmap(x=HEAT_X, y=HEAT_Y, z=z, zmin=0, zmax=1, zsmooth='best', colorscale=scale(key),
                                 showscale=False, hoverinfo='skip', xaxis=xa, yaxis=ya, showlegend=False))
    shown_blue = [p for p in BLUE_POINTS if not covered(p, gh)]
    for key, pts in (('b', shown_blue), ('o', ORANGE_POINTS), ('g', gp)):
        fig.add_trace(go.Scatter(x=[p[0] for p in pts], y=[p[1] for p in pts], mode='markers', xaxis=xa, yaxis=ya, showlegend=False,
                                 marker=dict(size=4.5, color=DOT[key], line=dict(color='rgba(255,255,255,.5)', width=.4)), cliponaxis=True))
    names = ['RELATION<sub><i>pha</i></sub>', 'RELATION<sub><i>pha</i></sub>-BO<sub><i>dock</i></sub>(100%)',
             f'RELATION<sub><i>pha</i></sub>-BO<sub><i>dock</i></sub>({LEGEND_LABELS[i]})']
    for key, name in zip('bog', names):
        fig.add_trace(go.Scatter(x=[None], y=[None], mode='markers', name=name, xaxis=xa, yaxis=ya, legend=legname,
                                 marker=dict(size=12, color=LEG[key])))
    lx, ly = LEG_POS[i]
    layout[legname] = dict(x=lx / W, y=1 - ly / H, xanchor='left', yanchor='top', bgcolor='rgba(234,234,242,.82)',
        bordercolor='#CDCDD2', borderwidth=2, itemwidth=46, itemsizing='trace',
        font=dict(family=SANS, size=18.5, color='#555'),
        title=dict(text='Model', side='top center', font=dict(family=SANS, size=19, color='#333')))
    for key, xs, ys in (('b', TOP_X_BLUE, TOP_Y_BLUE), ('o', TOP_X_ORANGE, TOP_Y_ORANGE), ('g', gtx, gty)):
        fig.add_trace(go.Scatter(x=xs, y=ys, mode='lines', fill='tozeroy', fillcolor=FILL[key], line=dict(color=C[key], width=2, shape='spline', smoothing=.6),
                                 xaxis=f'x{t}', yaxis=f'y{t}', showlegend=False))
    for key, xs, ys in (('b', RIGHT_X_BLUE, RIGHT_Y_BLUE), ('o', RIGHT_X_ORANGE, RIGHT_Y_ORANGE), ('g', grx, gry)):
        fig.add_trace(go.Scatter(x=xs, y=ys, mode='lines', fill='tozerox', fillcolor=FILL[key], line=dict(color=C[key], width=2, shape='spline', smoothing=.6),
                                 xaxis=f'x{r}', yaxis=f'y{r}', showlegend=False))

for text, row, left, right in CAPTION:
    px = left if left is not None else right
    annotations.append(dict(x=px / W, y=1 - (1404 + 27 * row) / H, xref='paper', yref='paper', xanchor='left' if left is not None else 'right',
                            yanchor='middle', showarrow=False, text=text, font=dict(family=SERIF, size=22.7, color='#111')))
annotations.append(dict(x=1400 / W, y=1 - 1497 / H, xref='paper', yref='paper', xanchor='right', yanchor='middle', showarrow=False,
                        text='CSDN @风灬陌', font=dict(family='Noto Sans CJK SC, sans-serif', size=13, color='#999')))
shapes.append(dict(type='line', xref='paper', yref='paper', x0=33 / W, x1=1376 / W, y0=1 - 1512 / H, y1=1 - 1512 / H, line=dict(color='#B84E78', width=2)))
layout['annotations'] = annotations
layout['shapes'] = shapes
fig.update_layout(**layout)
fig.write_html('out.html', config={'displayModeBar': False}, post_script="document.body.style.margin='0';document.documentElement.style.overflow='hidden';")
